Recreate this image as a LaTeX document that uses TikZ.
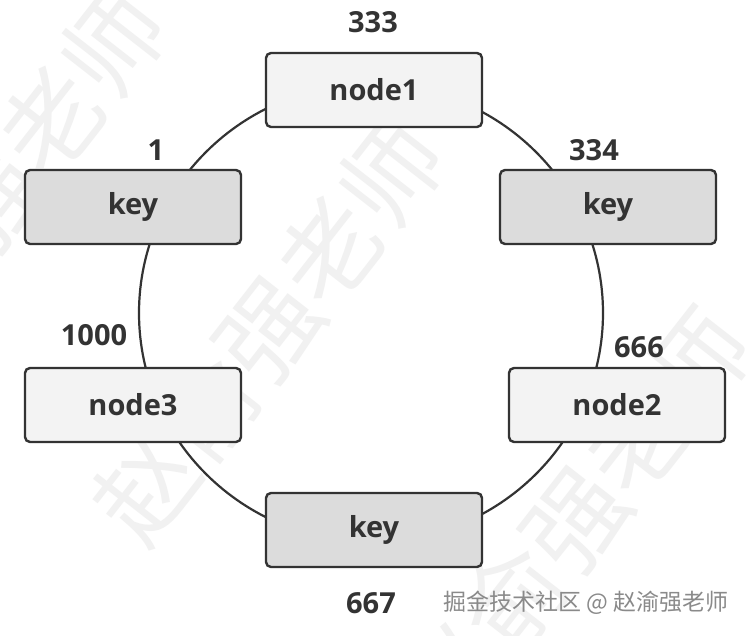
\documentclass[tikz,border=0pt]{standalone}
\usepackage{fontspec}
\setmainfont{Open Sans}
\newfontfamily\cjkfont{Noto Sans CJK SC}
\usetikzlibrary{shapes.geometric}
\definecolor{ink}{HTML}{333333}
\definecolor{lightbox}{HTML}{F3F3F3}
\definecolor{darkbox}{HTML}{DCDCDC}
\definecolor{wm}{HTML}{F1F1F1}
\definecolor{credit}{HTML}{8A8A8A}
\tikzset{
  box/.style={draw=ink, line width=2.4pt, rounded corners=5pt,
    minimum width=216pt, minimum height=74pt, inner sep=0pt,
    text=ink, font=\fontsize{29}{34}\selectfont\bfseries},
  srvbox/.style={box, fill=lightbox},
  keybox/.style={box, fill=darkbox},
  num/.style={inner sep=0pt, text=ink, font=\fontsize{29}{34}\selectfont\bfseries},
  ring/.style={draw=ink, line width=2.2pt, ellipse, inner sep=0pt,
    minimum width=464pt, minimum height=458pt},
  watermark/.style={inner sep=0pt, text=wm, rotate=52,
    font=\cjkfont\fontsize{100}{110}\selectfont}
}
\begin{document}
\begin{tikzpicture}[x=1pt,y=-1pt]
\useasboundingbox (0,0) rectangle (750,636);
\clip (0,0) rectangle (750,636);
\fill[white] (0,0) rectangle (750,636);
% watermarks
\node[watermark] (wm1) at (268,330) {赵俞强老师};
\node[watermark] (wm2) at (575,520) {赵俞强老师};
\node[watermark] (wm3) at (-10,200) {赵俞强老师};
% ring
\node[ring] (ring) at (371,313) {};
% boxes
\node[srvbox] (node1) at (374,90) {node1};
\node[keybox] (keyl) at (133,207) {key};
\node[keybox] (keyr) at (608,207) {key};
\node[srvbox] (node3) at (133,405) {node3};
\node[srvbox] (node2) at (617,405) {node2};
\node[keybox] (keyb) at (374,530) {key};
% labels
\node[num] (l333) at (373,22) {333};
\node[num] (l1) at (156,150) {1};
\node[num] (l334) at (594,150) {334};
\node[num] (l1000) at (94,335) {1000};
\node[num] (l666) at (639,347) {666};
\node[num] (l667) at (371,603) {667};
\node[inner sep=0pt, text=credit, font=\cjkfont\fontsize{23}{26}\selectfont] (credit) at (586,603) {掘金技术社区 @ 赵渝强老师};
\end{tikzpicture}
\end{document}
